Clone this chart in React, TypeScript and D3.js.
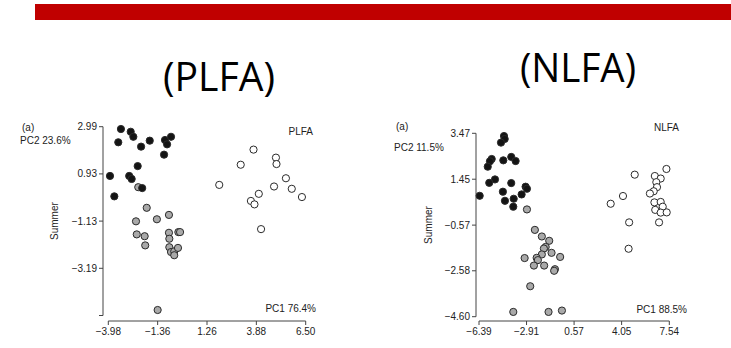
import React, { useEffect, useRef } from "react";
import * as d3 from "d3";

type Pt = [number, number];

// PLFA (left panel)
const plfaXTicks = [-3.98, -1.36, 1.26, 3.88, 6.5];
const plfaXLabels = ["−3.98", "−1.36", "1.26", "3.88", "6.50"];
const plfaYTicks = [2.99, 0.93, -1.13, -3.19, -5.25];
const plfaYLabels = ["2.99", "0.93", "−1.13", "−3.19", ""];

const plfaBlack: Pt[] = [
  [-3.31, 2.89], [-2.79, 2.77], [-2.65, 2.55], [-3.45, 2.31], [-2.24, 2.12],
  [-1.78, 2.38], [-0.97, 2.41], [-0.65, 2.55], [-0.86, 2.22], [-1.02, 1.77],
  [-2.42, 1.27], [-3.89, 0.84], [-2.87, 0.84], [-2.74, 0.71], [-2.18, 0.31],
  [-3.66, -0.05],
];
const plfaGray: Pt[] = [
  [-2.39, 0.35], [-1.94, -0.55], [-2.51, -1.14], [-1.4, -1.05], [-0.76, -0.86],
  [-2.47, -1.71], [-2.05, -1.79], [-2.02, -2.19], [-0.76, -1.64], [-0.74, -1.9],
  [-0.26, -1.61], [-0.17, -1.61], [-0.74, -2.27], [-0.65, -2.48], [-0.48, -2.45],
  [-0.48, -2.62], [-0.28, -2.3], [-1.36, -5.01],
];
const plfaWhite: Pt[] = [
  [3.73, 1.99], [3.05, 1.33], [4.92, 1.64], [4.95, 1.36], [1.91, 0.45],
  [5.45, 0.74], [4.82, 0.38], [5.76, 0.28], [6.3, -0.08], [4.01, 0.06],
  [3.59, -0.25], [3.78, -0.4], [4.13, -1.48],
];

// NLFA (right panel)
const nlfaXTicks = [-6.39, -2.91, 0.57, 4.05, 7.54];
const nlfaXLabels = ["−6.39", "−2.91", "0.57", "4.05", "7.54"];
const nlfaYTicks = [3.47, 1.45, -0.57, -2.58, -4.6];
const nlfaYLabels = ["3.47", "1.45", "−0.57", "−2.58", "−4.60"];

const nlfaBlack: Pt[] = [
  [-4.56, 3.35], [-4.51, 3.22], [-4.78, 3.06], [-4.03, 2.43], [-3.71, 2.25],
  [-4.61, 2.28], [-5.46, 2.34], [-5.59, 2.24], [-5.75, 2.0], [-5.22, 1.44],
  [-5.64, 1.29], [-4.03, 1.28], [-6.34, 0.72], [-4.64, 0.9], [-4.49, 0.5],
  [-3.85, 0.59], [-3.88, 0.24], [-3.27, 0.78], [-2.98, 1.12], [-2.88, 1.03],
];
const nlfaGray: Pt[] = [
  [-2.88, 0.12], [-2.3, -0.78], [-1.79, -1.07], [-1.25, -1.26], [-1.51, -1.53],
  [-1.64, -1.6], [-1.08, -1.79], [-1.79, -1.86], [-3.05, -2.02], [-2.17, -2.01],
  [-2.08, -2.11], [-0.45, -1.97], [-2.37, -2.35], [-1.62, -2.35], [-0.83, -2.51],
  [-0.89, -2.58], [-2.64, -3.26], [-3.88, -4.39], [-1.3, -4.39], [-0.32, -4.33],
];
const nlfaWhite: Pt[] = [
  [5.01, 1.65], [7.33, 1.9], [6.48, 1.59], [6.91, 1.48], [6.59, 1.32],
  [6.64, 1.1], [6.4, 0.92], [6.12, 0.82], [4.15, 0.71], [3.25, 0.37],
  [6.45, 0.43], [6.91, 0.45], [7.06, 0.24], [6.51, 0.1], [6.91, -0.02],
  [7.35, -0.01], [4.6, -0.45], [6.79, -0.45], [4.56, -1.61],
];

type Panel = {
  xTicks: number[]; xLabels: string[];
  yTicks: number[]; yLabels: string[];
  black: Pt[]; gray: Pt[]; white: Pt[];
  xRange: [number, number]; yRange: [number, number];
  yAxisX: number; xAxisY: number;
  name: string; pc1: string; pc2: string;
  nameX: number; nameY: number; pc1X: number; pc1Y: number;
  pc2X: number; pc2Y: number; aX: number; aY: number; summerX: number;
};

const TEXT = "#222";
const AXIS = "#444";
const FONT = "'Liberation Sans', Arial, sans-serif";

export default function App() {
  const svgRef = useRef<SVGSVGElement>(null);

  useEffect(() => {
    if (!svgRef.current) return;
    const svg = d3.select(svgRef.current);
    svg.selectAll("*").remove();

    // red banner at the top
    svg.append("rect")
      .attr("x", 35).attr("y", 4).attr("width", 731 - 35).attr("height", 16)
      .attr("fill", "#c00000");

    // big titles
    svg.append("text")
      .attr("x", 163).attr("y", 91)
      .attr("font-family", "'Open Sans', sans-serif")
      .attr("font-size", 40)
      .attr("textLength", 112).attr("lengthAdjust", "spacingAndGlyphs")
      .attr("fill", "#000")
      .text("(PLFA)");
    svg.append("text")
      .attr("x", 520).attr("y", 82)
      .attr("font-family", "'Open Sans', sans-serif")
      .attr("font-size", 40)
      .attr("textLength", 116).attr("lengthAdjust", "spacingAndGlyphs")
      .attr("fill", "#000")
      .text("(NLFA)");

    const panels: Panel[] = [
      {
        xTicks: plfaXTicks, xLabels: plfaXLabels, yTicks: plfaYTicks, yLabels: plfaYLabels,
        black: plfaBlack, gray: plfaGray, white: plfaWhite,
        xRange: [108.3, 305.7], yRange: [315.5, 126.7],
        yAxisX: 103, xAxisY: 321,
        name: "PLFA", pc1: "PC1 76.4%", pc2: "PC2 23.6%",
        nameX: 313, nameY: 135, pc1X: 316, pc1Y: 312,
        pc2X: 20, pc2Y: 144, aX: 22, aY: 131, summerX: 58,
      },
      {
        xTicks: nlfaXTicks, xLabels: nlfaXLabels, yTicks: nlfaYTicks, yLabels: nlfaYLabels,
        black: nlfaBlack, gray: nlfaGray, white: nlfaWhite,
        xRange: [479, 669.3], yRange: [316.7, 133.3],
        yAxisX: 476, xAxisY: 321,
        name: "NLFA", pc1: "PC1 88.5%", pc2: "PC2 11.5%",
        nameX: 679, nameY: 131, pc1X: 687, pc1Y: 313,
        pc2X: 394, pc2Y: 151, aX: 396, aY: 130, summerX: 432,
      },
    ];

    panels.forEach((p) => {
      const x = d3.scaleLinear()
        .domain([p.xTicks[0], p.xTicks[p.xTicks.length - 1]])
        .range(p.xRange);
      const y = d3.scaleLinear()
        .domain([p.yTicks[p.yTicks.length - 1], p.yTicks[0]])
        .range(p.yRange);

      const g = svg.append("g").attr("font-family", FONT);

      // y axis
      g.append("line")
        .attr("x1", p.yAxisX).attr("x2", p.yAxisX)
        .attr("y1", y(p.yTicks[0])).attr("y2", y(p.yTicks[p.yTicks.length - 1]))
        .attr("stroke", AXIS).attr("stroke-width", 1);
      p.yTicks.forEach((t, i) => {
        g.append("line")
          .attr("x1", p.yAxisX - 4).attr("x2", p.yAxisX)
          .attr("y1", y(t)).attr("y2", y(t))
          .attr("stroke", AXIS).attr("stroke-width", 1);
        g.append("text")
          .attr("x", p.yAxisX - 6).attr("y", y(t))
          .attr("dy", "0.35em")
          .attr("text-anchor", "end")
          .attr("font-size", 10)
          .attr("fill", TEXT)
          .text(p.yLabels[i]);
      });

      // x axis
      g.append("line")
        .attr("x1", x(p.xTicks[0])).attr("x2", x(p.xTicks[p.xTicks.length - 1]))
        .attr("y1", p.xAxisY).attr("y2", p.xAxisY)
        .attr("stroke", AXIS).attr("stroke-width", 1);
      p.xTicks.forEach((t, i) => {
        g.append("line")
          .attr("x1", x(t)).attr("x2", x(t))
          .attr("y1", p.xAxisY).attr("y2", p.xAxisY + 4)
          .attr("stroke", AXIS).attr("stroke-width", 1);
        g.append("text")
          .attr("x", x(t)).attr("y", p.xAxisY + 14)
          .attr("text-anchor", "middle")
          .attr("font-size", 10)
          .attr("fill", TEXT)
          .text(p.xLabels[i]);
      });

      // labels
      g.append("text").attr("x", p.aX).attr("y", p.aY)
        .attr("font-size", 10).attr("fill", TEXT).text("(a)");
      g.append("text").attr("x", p.pc2X).attr("y", p.pc2Y)
        .attr("font-size", 10).attr("fill", TEXT).text(p.pc2);
      g.append("text").attr("x", p.nameX).attr("y", p.nameY)
        .attr("text-anchor", "end")
        .attr("font-size", 10).attr("fill", TEXT).text(p.name);
      g.append("text").attr("x", p.pc1X).attr("y", p.pc1Y)
        .attr("text-anchor", "end")
        .attr("font-size", 10).attr("fill", TEXT).text(p.pc1);
      const cy = (p.yRange[0] + p.yRange[1]) / 2;
      g.append("text")
        .attr("transform", `translate(${p.summerX},${cy}) rotate(-90)`)
        .attr("text-anchor", "middle")
        .attr("font-size", 10).attr("fill", TEXT).text("Summer");

      // points
      const groups: [Pt[], string][] = [
        [p.white, "#ffffff"],
        [p.gray, "#a9a9a9"],
        [p.black, "#141414"],
      ];
      groups.forEach(([pts, fill]) => {
        g.selectAll(null)
          .data(pts)
          .enter()
          .append("circle")
          .attr("cx", (d) => x(d[0]))
          .attr("cy", (d) => y(d[1]))
          .attr("r", 3.6)
          .attr("fill", fill)
          .attr("stroke", "#2a2a2a")
          .attr("stroke-width", 1);
      });
    });
  }, []);

  return (
    <svg
      ref={svgRef}
      width={731}
      height={348}
      style={{ position: "absolute", left: 0, top: 0, background: "#fff" }}
    />
  );
}
